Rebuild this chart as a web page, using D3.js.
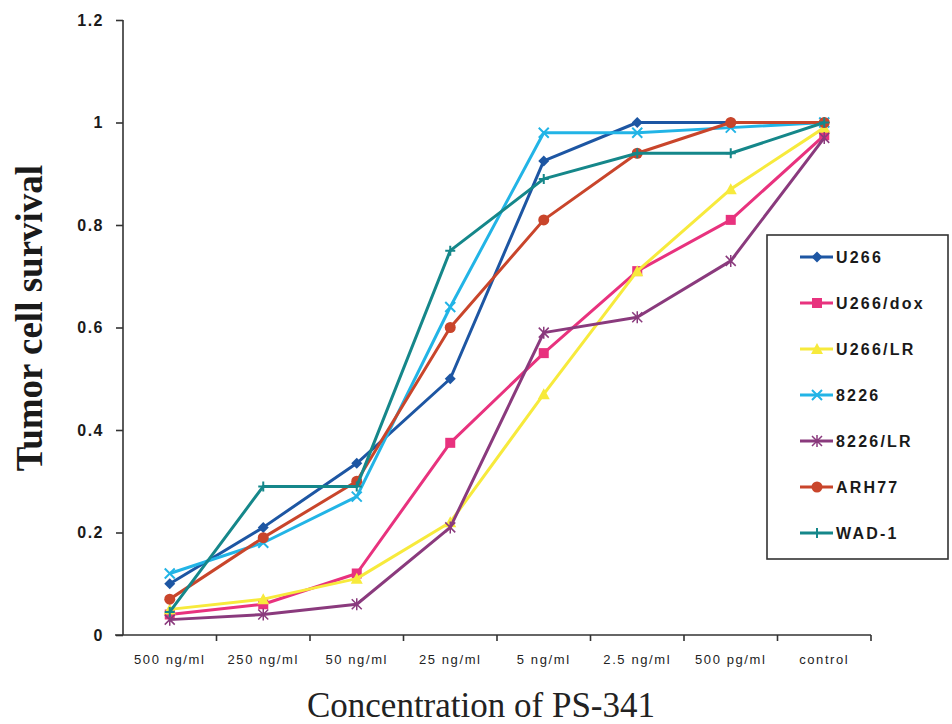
<!DOCTYPE html>
<html>
<head>
<meta charset="utf-8">
<script src="https://cdn.jsdelivr.net/npm/d3@7"></script>
<style>
  body { margin: 0; background: #fff; }
  svg { display: block; }
</style>
</head>
<body>
<div id="chart"></div>
<script>
// concentrations along the x axis
const categories = ['500 ng/ml', '250 ng/ml', '50 ng/ml', '25 ng/ml', '5 ng/ml', '2.5 ng/ml', '500 pg/ml', 'control'];
const yTicks = [0, 0.2, 0.4, 0.6, 0.8, 1, 1.2];

// survival values
const u266    = [0.10, 0.21, 0.335, 0.50, 0.925, 1.00, 1.00, 1.00];
const u266dox = [0.04, 0.06, 0.12, 0.375, 0.55, 0.71, 0.81, 0.975];
const u266lr  = [0.05, 0.07, 0.11, 0.22, 0.47, 0.71, 0.87, 0.99];
const s8226   = [0.12, 0.18, 0.27, 0.64, 0.98, 0.98, 0.99, 1.00];
const s8226lr = [0.03, 0.04, 0.06, 0.21, 0.59, 0.62, 0.73, 0.97];
const arh77   = [0.07, 0.19, 0.30, 0.60, 0.81, 0.94, 1.00, 1.00];
const wad1    = [0.045, 0.29, 0.29, 0.75, 0.89, 0.94, 0.94, 1.00];

const seriesNames = ['U266', 'U266/dox', 'U266/LR', '8226', '8226/LR', 'ARH77', 'WAD-1'];
const seriesValues = [u266, u266dox, u266lr, s8226, s8226lr, arh77, wad1];
const seriesColors = ['#1d56a3', '#e8327e', '#f7ea3c', '#22b4e6', '#8a3a7d', '#c9452b', '#15878a'];
const seriesMarkers = ['diamond', 'square', 'triangle', 'cross', 'asterisk', 'circle', 'plus'];

const width = 952, height = 724;
const margin = {top: 20, right: 81, bottom: 89, left: 123};

const svg = d3.select('#chart')
  .append('svg')
    .attr('width', width)
    .attr('height', height);

const x = d3.scaleBand()
  .domain(categories)
  .range([margin.left, width - margin.right]);

const y = d3.scaleLinear()
  .domain([0, 1.2])
  .range([height - margin.bottom, margin.top]);

// y axis
const yAxis = svg.append('g')
  .attr('transform', 'translate(' + margin.left + ',0)')
  .call(d3.axisLeft(y).tickValues(yTicks).tickSize(7).tickPadding(12).tickFormat(d3.format('')));
yAxis.selectAll('text')
  .style('font-family', 'Liberation Sans, Arial, sans-serif')
  .style('font-weight', 'bold')
  .style('font-size', '16px')
  .style('letter-spacing', '1.5px')
  .style('fill', '#1a1a1a');
yAxis.selectAll('line, path').attr('stroke', '#333').attr('stroke-width', 1.6);
yAxis.select('.domain').attr('d', 'M0,' + y(1.2) + 'V' + y(0));

// x axis with ticks between the categories
const xAxis = svg.append('g')
  .attr('transform', 'translate(0,' + y(0) + ')')
  .call(d3.axisBottom(x).tickSize(0).tickPadding(20));
xAxis.select('.domain').attr('stroke', '#333').attr('stroke-width', 1.6)
  .attr('d', 'M' + (margin.left - 8) + ',0H' + (width - margin.right));
xAxis.selectAll('text')
  .style('font-family', 'Liberation Sans, Arial, sans-serif')
  .style('font-size', '13px')
  .style('letter-spacing', '1.6px')
  .style('fill', '#222');
xAxis.selectAll('.sep')
  .data(categories.slice(1).concat(['end']))
  .enter().append('line')
    .attr('class', 'sep')
    .attr('x1', (d, i) => x(categories[0]) + x.step() * (i + 1))
    .attr('x2', (d, i) => x(categories[0]) + x.step() * (i + 1))
    .attr('y1', 0).attr('y2', 6)
    .attr('stroke', '#333').attr('stroke-width', 1.6);

// axis titles
svg.append('text')
  .attr('transform', 'translate(42,318) rotate(-90)')
  .attr('text-anchor', 'middle')
  .style('font-family', 'Liberation Serif, Times New Roman, serif')
  .style('font-weight', 'bold')
  .style('font-size', '37px')
  .style('fill', '#1a1a1a')
  .text('Tumor cell survival');

svg.append('text')
  .attr('x', 481)
  .attr('y', 717)
  .attr('text-anchor', 'middle')
  .style('font-family', 'Liberation Serif, Times New Roman, serif')
  .style('font-size', '35px')
  .style('fill', '#222')
  .text('Concentration of PS-341');

function drawMarker(g, type, color) {
  if (type === 'diamond') {
    g.append('path').attr('d', 'M0,-5.5L5.5,0L0,5.5L-5.5,0Z').attr('fill', color);
  } else if (type === 'square') {
    g.append('rect').attr('x', -5).attr('y', -5).attr('width', 10).attr('height', 10).attr('fill', color);
  } else if (type === 'triangle') {
    g.append('path').attr('d', 'M0,-6L6,5L-6,5Z').attr('fill', color);
  } else if (type === 'circle') {
    g.append('circle').attr('r', 5.5).attr('fill', color);
  } else if (type === 'cross') {
    g.append('path').attr('d', 'M-5,-5L5,5M-5,5L5,-5').attr('stroke', color).attr('stroke-width', 2);
  } else if (type === 'asterisk') {
    g.append('path').attr('d', 'M-5,-5L5,5M-5,5L5,-5M0,-6V6').attr('stroke', color).attr('stroke-width', 1.5);
  } else if (type === 'plus') {
    g.append('path').attr('d', 'M-5,0H5M0,-5V5').attr('stroke', color).attr('stroke-width', 2);
  }
}

const line = d3.line()
  .x((d, i) => x(categories[i]) + x.bandwidth() / 2)
  .y(d => y(d));

seriesValues.forEach((vals, s) => {
  const g = svg.append('g').attr('class', 'series');
  g.append('path')
    .attr('d', line(vals))
    .attr('fill', 'none')
    .attr('stroke', seriesColors[s])
    .attr('stroke-width', 3)
    .attr('stroke-linejoin', 'round');
  vals.forEach((v, i) => {
    const m = g.append('g')
      .attr('transform', 'translate(' + (x(categories[i]) + x.bandwidth() / 2) + ',' + y(v) + ')');
    drawMarker(m, seriesMarkers[s], seriesColors[s]);
  });
});

// legend
const legend = svg.append('g').attr('transform', 'translate(767,235)');
legend.append('rect')
  .attr('width', 181).attr('height', 324)
  .attr('fill', '#fff')
  .attr('stroke', '#333').attr('stroke-width', 1.6);

seriesNames.forEach((name, i) => {
  const row = legend.append('g').attr('transform', 'translate(0,' + (22 + i * 46) + ')');
  row.append('line')
    .attr('x1', 33).attr('x2', 66)
    .attr('stroke', seriesColors[i]).attr('stroke-width', 3);
  const m = row.append('g').attr('transform', 'translate(50,0)');
  drawMarker(m, seriesMarkers[i], seriesColors[i]);
  row.append('text')
    .attr('x', 69).attr('y', 6)
    .style('font-family', 'Liberation Sans, Arial, sans-serif')
    .style('font-weight', 'bold')
    .style('font-size', '16px')
    .style('letter-spacing', '2.2px')
    .style('fill', '#1a1a1a')
    .text(name);
});
</script>
</body>
</html>
